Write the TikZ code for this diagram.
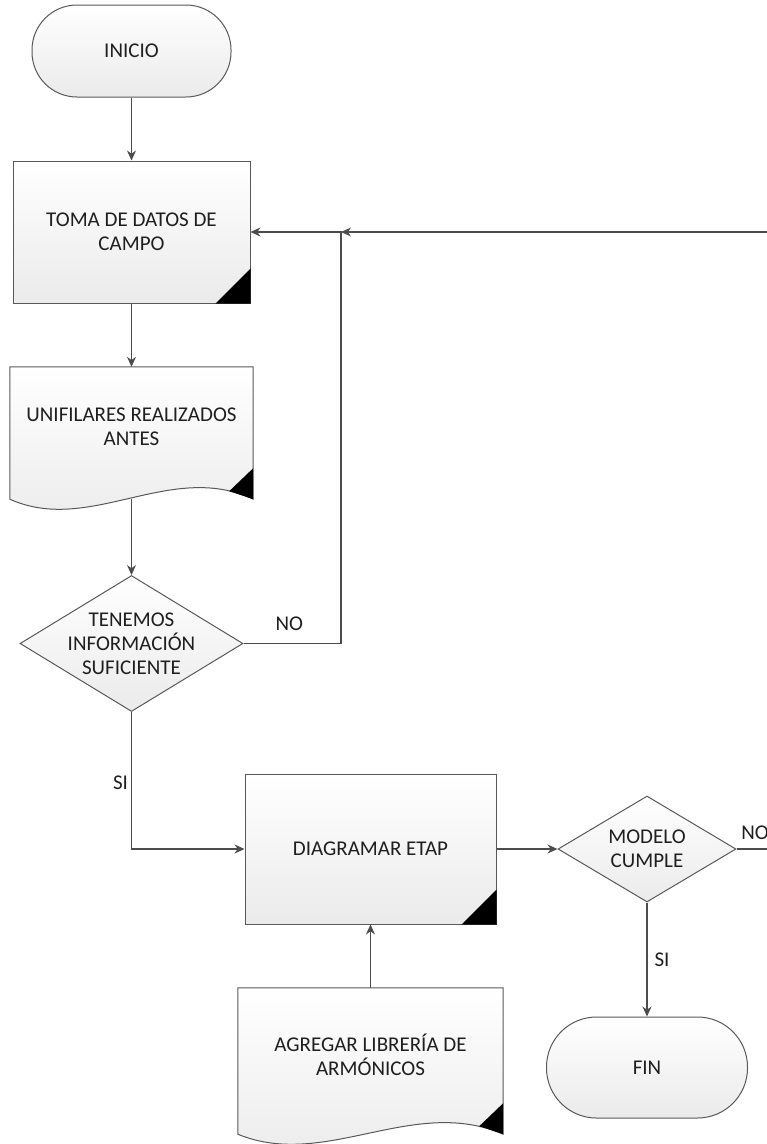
\documentclass[tikz,border=0pt]{standalone}
\usepackage{fontspec}
\setmainfont{Carlito}
\usetikzlibrary{arrows.meta,calc,shapes.geometric,backgrounds}

\begin{document}
\begin{tikzpicture}[x=1pt,y=-1pt,>={Stealth[length=10pt,width=9pt]},
    font=\fontsize{21}{24}\selectfont,
    every node/.style={text=black!88},
    wire/.style={draw=black!70,line width=1.1pt},
    softfill/.style={top color=white,bottom color=black!8},
    term/.style={draw=black!65,line width=1pt,softfill,rectangle,rounded corners=45pt,minimum width=199pt,minimum height=92pt},
    proc/.style={draw=black!65,line width=1pt,softfill,rectangle,align=center},
    docu/.style={rectangle,align=center,inner sep=0pt},
    decision/.style={draw=black!65,line width=1pt,softfill,diamond,inner sep=-30pt,align=center},
    lbl/.style={inner sep=3pt}]
    \useasboundingbox (0,0) rectangle (767,1144);
    % main column
    \node[term] (inicio) at (131.5,51) {INICIO};
    \node[proc,minimum width=237pt,minimum height=142pt] (toma) at (131.5,232) {TOMA DE DATOS DE\\CAMPO};
    \node[docu,minimum width=243pt,minimum height=120pt] (unif) at (131.5,427) {UNIFILARES REALIZADOS\\ANTES};
    \node[decision,minimum width=223pt,minimum height=136pt] (tenemos) at (131.5,643.5) {TENEMOS\\INFORMACIÓN\\SUFICIENTE};
    % lower row
    \node[proc,minimum width=251pt,minimum height=150pt] (diag) at (370.5,849) {DIAGRAMAR ETAP};
    \node[decision,minimum width=178pt,minimum height=106pt] (modelo) at (647,849) {MODELO\\CUMPLE};
    \node[term,rounded corners=50pt,minimum width=201pt,minimum height=101pt] (fin) at (647,1067.5) {FIN};
    \node[docu,minimum width=265pt,minimum height=134pt] (agreg) at (370.5,1055) {AGREGAR LIBRERÍA DE\\ARMÓNICOS};
    % document outlines
    \begin{scope}[on background layer]
        \foreach \n in {unif,agreg}{
            \draw[draw=black!65,line width=1pt,softfill] (\n.north west) -- (\n.north east) -- ($(\n.south east)+(0,12)$)
                .. controls ($(\n.south west)!0.66!(\n.south east)+(0,-27)$) and ($(\n.south west)!0.33!(\n.south east)+(0,48)$) .. ($(\n.south west)+(0,12)$) -- cycle;
        }
    \end{scope}
    \foreach \n in {unif,agreg}
        \fill ($(\n.south east)+(0,-19)$) -- ($(\n.south east)+(0,12)$) -- ($(\n.south east)+(-24,4)$) -- cycle;
    \foreach \n in {toma,diag}
        \fill (\n.south east) -- ++(0,-35) -- ++(-35,35) -- cycle;
    % connectors
    \coordinate (unifend) at ($(unif.south)+(0,12)$);
    \coordinate (junct) at (341,232);
    \coordinate (loopin) at (767,232);
    \coordinate (exitno) at (767,849);
    \draw[wire,->] (inicio.south) -- (toma.north);
    \draw[wire,->] (toma.south) -- (unif.north);
    \draw[wire,->] (unifend) -- (tenemos.north);
    \draw[wire,->] (loopin) -- (junct);
    \draw[wire,->] (tenemos.east) -| node[pos=0.235,lbl,anchor=south,yshift=9pt] {NO} (junct) -- (toma.east);
    \draw[wire,->] (tenemos.south) |- node[pos=0.26,lbl,anchor=east] {SI} (diag.west);
    \draw[wire,->] (diag.east) -- (modelo.west);
    \draw[wire] (modelo.east) -- node[pos=0.61,lbl,anchor=south,yshift=5.5pt] {NO} (exitno);
    \draw[wire,->] (modelo.south) -- node[midway,lbl,anchor=west,xshift=4pt] {SI} (fin.north);
    \draw[wire,->] (agreg.north) -- (diag.south);
\end{tikzpicture}
\end{document}
